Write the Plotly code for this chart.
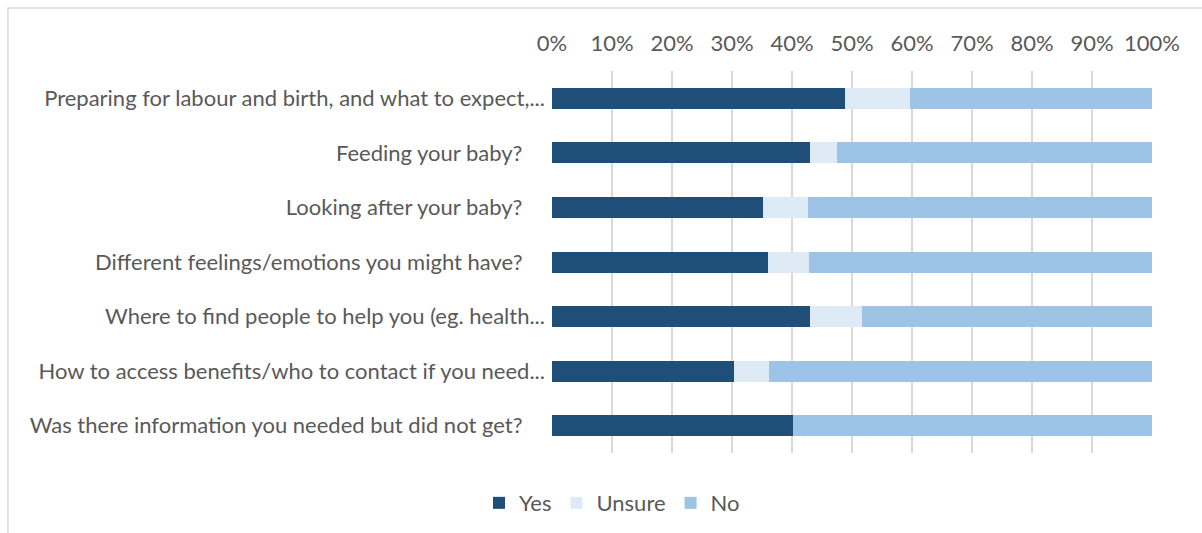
import plotly.graph_objects as go

PAD = "\u00a0" * 4

categories = [
    "Preparing for labour and birth, and what to expect,...",
    "Feeding your baby?" + PAD,
    "Looking after your baby?" + PAD,
    "Different feelings/emotions you might have?" + PAD,
    "Where to find people to help you (eg. health...",
    "How to access benefits/who to contact if you need...",
    "Was there information you needed but did not get?" + PAD,
]
yes_pct = [48.8, 43.0, 35.2, 36.0, 43.0, 30.4, 40.2]
unsure_pct = [10.8, 4.5, 7.4, 6.8, 8.6, 5.8, 0.0]
no_pct = [40.4, 52.5, 57.4, 57.2, 48.4, 63.8, 59.8]

series = [
    ("Yes", yes_pct, "#1f4e79"),
    ("Unsure", unsure_pct, "#deebf7"),
    ("No", no_pct, "#9dc3e6"),
]

fig = go.Figure()
for name, vals, color in series:
    fig.add_trace(go.Bar(
        y=categories, x=vals, name=name, orientation="h",
        marker=dict(color=color, line=dict(width=0)),
        hovertemplate="%{y}: %{x}%<extra>" + name + "</extra>",
    ))

font_family = "Lato, Carlito, 'Open Sans', sans-serif"
FS = 22
TXT = "#595959"

fig.update_layout(
    barmode="stack",
    bargap=0.615,
    width=1202, height=533,
    margin=dict(l=552, r=50, t=71, b=80, autoexpand=False),
    paper_bgcolor="white", plot_bgcolor="white",
    font=dict(family=font_family, size=FS, color=TXT),
    xaxis=dict(
        side="top", range=[0, 100], tick0=0, dtick=10,
        ticksuffix="%", showgrid=True, gridcolor="#d9d9d9", gridwidth=2,
        zeroline=False, showline=False, ticks="", fixedrange=True,
        ticklabelstandoff=15,
        tickfont=dict(size=FS, color=TXT),
    ),
    yaxis=dict(
        autorange="reversed", showgrid=False, zeroline=False,
        ticks="", ticklabelstandoff=6,
        tickfont=dict(size=FS, color=TXT),
    ),
    legend=dict(
        orientation="h", x=0.1, xanchor="center", y=-0.131, yanchor="middle",
        font=dict(size=FS, color=TXT), traceorder="normal",
    ),
    shapes=[dict(
        type="rect", xref="paper", yref="paper",
        x0=-0.9067, x1=1.2, y0=-0.3, y1=1.165,
        line=dict(color="#d9d9d9", width=1.5), fillcolor="rgba(0,0,0,0)",
        layer="below",
    )],
)

fig.write_html("out.html")
